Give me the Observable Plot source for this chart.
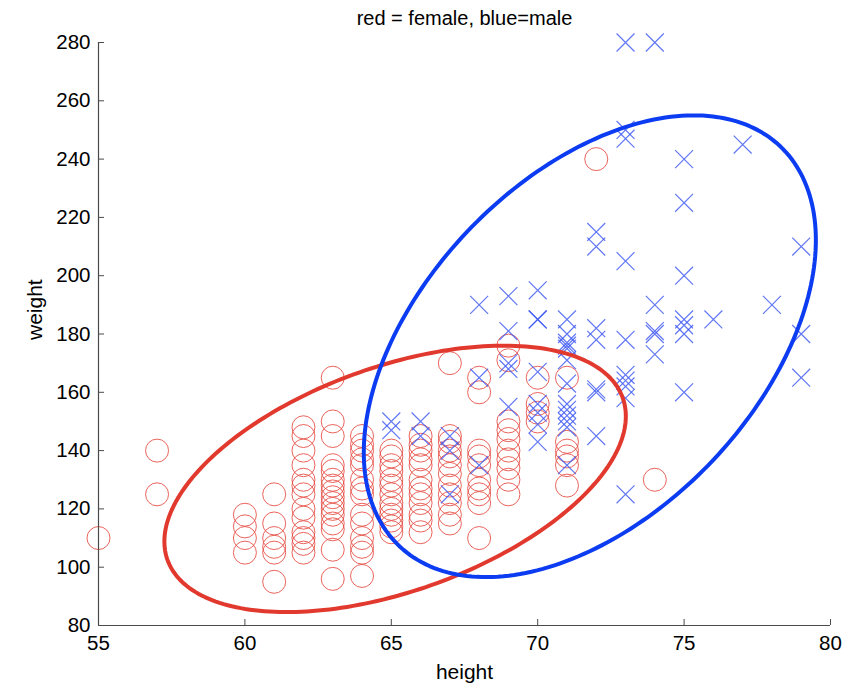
<!DOCTYPE html>
<html><head><meta charset="utf-8">
<script src="https://cdn.jsdelivr.net/npm/d3@7"></script>
<script src="https://cdn.jsdelivr.net/npm/@observablehq/plot@0.6"></script>
<style>body{margin:0;background:#fff}</style>
</head><body><div id="chart"></div>
<script>
const title = "red = female, blue=male";
const xLabel = "height";
const yLabel = "weight";
const xTicks = [55, 60, 65, 70, 75, 80];
const yTicks = [80, 100, 120, 140, 160, 180, 200, 220, 240, 260, 280];

// female (red circles): heights and weights at each height
const femaleHeights = [55, 57, 60, 61, 62, 63, 64, 65, 66, 67, 68, 69, 70, 71, 72, 74];
const femaleWeights = [
  [110],
  [140, 125],
  [118, 114, 110, 105],
  [125, 115, 110, 107, 105, 95],
  [148, 145, 140, 135, 130, 128, 125, 120, 117, 112, 110, 108, 105],
  [165, 150, 145, 135, 133, 130, 128, 126, 124, 122, 120, 118, 115, 113, 106, 96],
  [145, 142, 140, 137, 135, 130, 127, 125, 118, 115, 110, 107, 105, 97],
  [140, 138, 135, 133, 130, 128, 125, 122, 120, 118, 116, 114, 112],
  [145, 142, 140, 137, 135, 130, 127, 125, 122, 118, 116, 112],
  [170, 145, 143, 140, 138, 135, 132, 128, 125, 122, 118, 115],
  [165, 160, 140, 138, 135, 130, 127, 125, 122, 110],
  [176, 171, 150, 147, 144, 140, 137, 134, 130, 125],
  [165, 156, 153, 150],
  [165, 143, 140, 138, 135, 128],
  [240],
  [130]
];

// male (blue crosses): heights and weights at each height
const maleHeights = [65, 66, 67, 68, 69, 70, 71, 72, 73, 74, 75, 76, 77, 78, 79];
const maleWeights = [
  [150, 147],
  [150, 145],
  [145, 140, 125],
  [190, 165, 135],
  [193, 181, 170, 168, 155],
  [195, 185, 185, 167, 156, 153, 149, 143],
  [185, 180, 177, 176, 175, 171, 163, 156, 154, 152, 150, 148, 135],
  [215, 210, 182, 178, 161, 160, 145],
  [280, 250, 247, 205, 178, 166, 164, 162, 158, 125],
  [280, 190, 181, 180, 173],
  [240, 225, 200, 185, 183, 180, 160],
  [185],
  [245],
  [190],
  [210, 180, 165]
];

// Gaussian contour ellipses [female, male]
const ellipseCenterX = [65.13, 71.78];
const ellipseCenterY = [130.3, 175.8];
const ellipseHalfWidth = [7.88, 7.72];
const ellipseHalfHeight = [45.7, 79.2];
const ellipseCorr = [0.47, 0.46];

const female = femaleHeights.flatMap((h, i) => femaleWeights[i].map(w => ({h, w})));
const male = maleHeights.flatMap((h, i) => maleWeights[i].map(w => ({h, w})));

function ellipse(i) {
  const pts = [];
  const s = Math.sqrt(1 - ellipseCorr[i] ** 2);
  for (let k = 0; k <= 240; k++) {
    const t = 2 * Math.PI * k / 240;
    pts.push({
      h: ellipseCenterX[i] + ellipseHalfWidth[i] * Math.cos(t),
      w: ellipseCenterY[i] + ellipseHalfHeight[i] * (ellipseCorr[i] * Math.cos(t) + s * Math.sin(t))
    });
  }
  return pts;
}

const W = 865, H = 688, mL = 98, mR = 35, mT = 42, mB = 63;
const plotW = W - mL - mR, plotH = H - mT - mB;
const red = "#e2392e", blue = "#0c3cf2";
const axisColor = "#4a4a4a";

const chart = Plot.plot({
  width: W, height: H,
  marginLeft: mL, marginRight: mR, marginTop: mT, marginBottom: mB,
  style: {fontFamily: "'Liberation Sans', Arial, Helvetica, sans-serif", fontSize: "20px", background: "#fff", color: "#000"},
  x: {domain: [55, 80]},
  y: {domain: [80, 280]},
  marks: [
    Plot.dot(female, {x: "h", y: "w", r: 11.5, stroke: "#e5493f", strokeOpacity: 0.85, strokeWidth: 1, fill: "none"}),
    Plot.dot(male, {x: "h", y: "w", symbol: "times", r: 8.2, stroke: "#3a55f2", strokeOpacity: 0.8, strokeWidth: 1.2}),
    Plot.line(ellipse(0), {x: "h", y: "w", stroke: red, strokeWidth: 4}),
    Plot.line(ellipse(1), {x: "h", y: "w", stroke: blue, strokeWidth: 4}),
    Plot.ruleX([55], {stroke: axisColor, strokeWidth: 1.2}),
    Plot.ruleY([80], {stroke: axisColor, strokeWidth: 1.2}),
    Plot.tickX(xTicks, {x: d => d, insetTop: plotH - 6, stroke: axisColor}),
    Plot.tickY(yTicks, {y: d => d, insetRight: plotW - 6, stroke: axisColor}),
    Plot.axisX({ticks: xTicks, tickSize: 0, tickPadding: 10, label: null, fontSize: 20.5}),
    Plot.axisY({ticks: yTicks, tickSize: 0, tickPadding: 8, label: null, fontSize: 20.5}),
    Plot.text([title], {frameAnchor: "top", lineAnchor: "middle", dy: -24, fontSize: 20}),
    Plot.text([xLabel], {frameAnchor: "bottom", lineAnchor: "middle", dy: 47, fontSize: 21}),
    Plot.text([yLabel], {frameAnchor: "left", rotate: -90, dx: -63, dy: 6, fontSize: 21})
  ]
});
document.getElementById("chart").appendChild(chart);
</script>
</body></html>
